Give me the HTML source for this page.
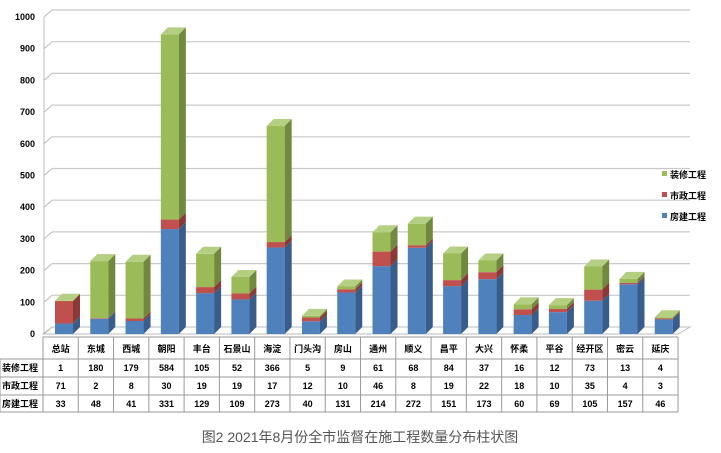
<!DOCTYPE html>
<html><head><meta charset="utf-8"><style>
body{margin:0;background:#fff;width:721px;height:453px;overflow:hidden}
svg{display:block}
text{font-family:"Liberation Sans","Noto Sans CJK SC",sans-serif;font-weight:bold;font-size:9px;fill:#000}
</style></head><body>
<svg id="s" width="721" height="453" viewBox="0 0 721 453"></svg>
<script>
var names=["总站","东城","西城","朝阳","丰台","石景山","海淀","门头沟","房山","通州","顺义","昌平","大兴","怀柔","平谷","经开区","密云","延庆"];
var zx=[1,180,179,584,105,52,366,5,9,61,68,84,37,16,12,73,13,4];
var sz=[71,2,8,30,19,19,17,12,10,46,8,19,22,18,10,35,4,3];
var fj=[33,48,41,331,129,109,273,40,131,214,272,151,173,60,69,105,157,46];
var h='';
var base=334,k=0.317,dx=7,dy=-7,L=43,cw=35.28;
// floor
h+='<polygon points="43,'+base+' 678,'+base+' 690,'+(base+dy)+' 52,'+(base+dy)+'" fill="#fff" stroke="#bbb" stroke-width="1"/>';
h+='<line x1="44" y1="'+base+'" x2="44" y2="17" stroke="#bbb"/>';
for(var v=0;v<=1000;v+=100){
 var y=base-v*k;
 if(v>0)h+='<line x1="52" y1="'+(y+dy)+'" x2="690" y2="'+(y+dy)+'" stroke="#c8c8c8" stroke-width="1.2"/>';
 h+='<line x1="44" y1="'+y+'" x2="52" y2="'+(y+dy)+'" stroke="#bbb"/>';
 h+='<text x="35" y="'+(y+3)+'" text-anchor="end" font-size="10">'+v+'</text>';
}
function seg(x,y0,y1,c,cs,ct,top){
 var s='<rect x="'+x+'" y="'+y1+'" width="18" height="'+(y0-y1)+'" fill="'+c+'"/>';
 s+='<polygon points="'+(x+18)+','+y0+' '+(x+18+dx)+','+(y0+dy)+' '+(x+18+dx)+','+(y1+dy)+' '+(x+18)+','+y1+'" fill="'+cs+'"/>';
 if(top)s+='<polygon points="'+x+','+y1+' '+(x+18)+','+y1+' '+(x+18+dx)+','+(y1+dy)+' '+(x+dx)+','+(y1+dy)+'" fill="'+ct+'"/>';
 return s;
}
for(var i=0;i<18;i++){
 var x=L+i*cw+12, y0=base, y1=base-fj[i]*k, y2=y1-sz[i]*k, y3=y2-zx[i]*k;
 h+=seg(x,y0,y1,"#4f81bd","#385d8a","#7aa0d0",false);
 h+=seg(x,y1,y2,"#c0504d","#8c3836","#d47a78",false);
 h+=seg(x,y2,y3,"#9bbb59","#71893f","#b5cf82",true);
}
// table
var rows=[337,359,377,395,412];
h+='<line x1="43" y1="337" x2="678" y2="337" stroke="#999"/>';
for(var r=1;r<5;r++)h+='<line x1="0" y1="'+rows[r]+'" x2="678" y2="'+rows[r]+'" stroke="#999"/>';
h+='<line x1="0" y1="359" x2="0" y2="412" stroke="#999"/>';
for(var i=0;i<=18;i++){var xx=L+i*cw;h+='<line x1="'+xx+'" y1="337" x2="'+xx+'" y2="412" stroke="#999"/>';}
var lab=["装修工程","市政工程","房建工程"],dat=[zx,sz,fj];
for(var i=0;i<18;i++){var cx=L+i*cw+cw/2;
 h+='<text x="'+cx+'" y="352" text-anchor="middle">'+names[i]+'</text>';
 for(var r=0;r<3;r++)h+='<text x="'+cx+'" y="'+(rows[r+1]+12)+'" text-anchor="middle">'+dat[r][i]+'</text>';}
for(var r=0;r<3;r++)h+='<text x="2" y="'+(rows[r+1]+12)+'">'+lab[r]+'</text>';
// legend
var lc=["#9bbb59","#c0504d","#4f81bd"];
for(var r=0;r<3;r++){var ly=174+r*21;h+='<rect x="662" y="'+(ly-3)+'" width="5" height="5" fill="'+lc[r]+'"/><text x="670" y="'+(ly+4)+'" font-size="10.5">'+lab[r]+'</text>';}
h+='<text x="360" y="442" text-anchor="middle" style="font-weight:normal;font-size:14px;fill:#555">图2  2021年8月份全市监督在施工程数量分布柱状图</text>';
document.getElementById('s').innerHTML=h;
</script>
</body></html>
